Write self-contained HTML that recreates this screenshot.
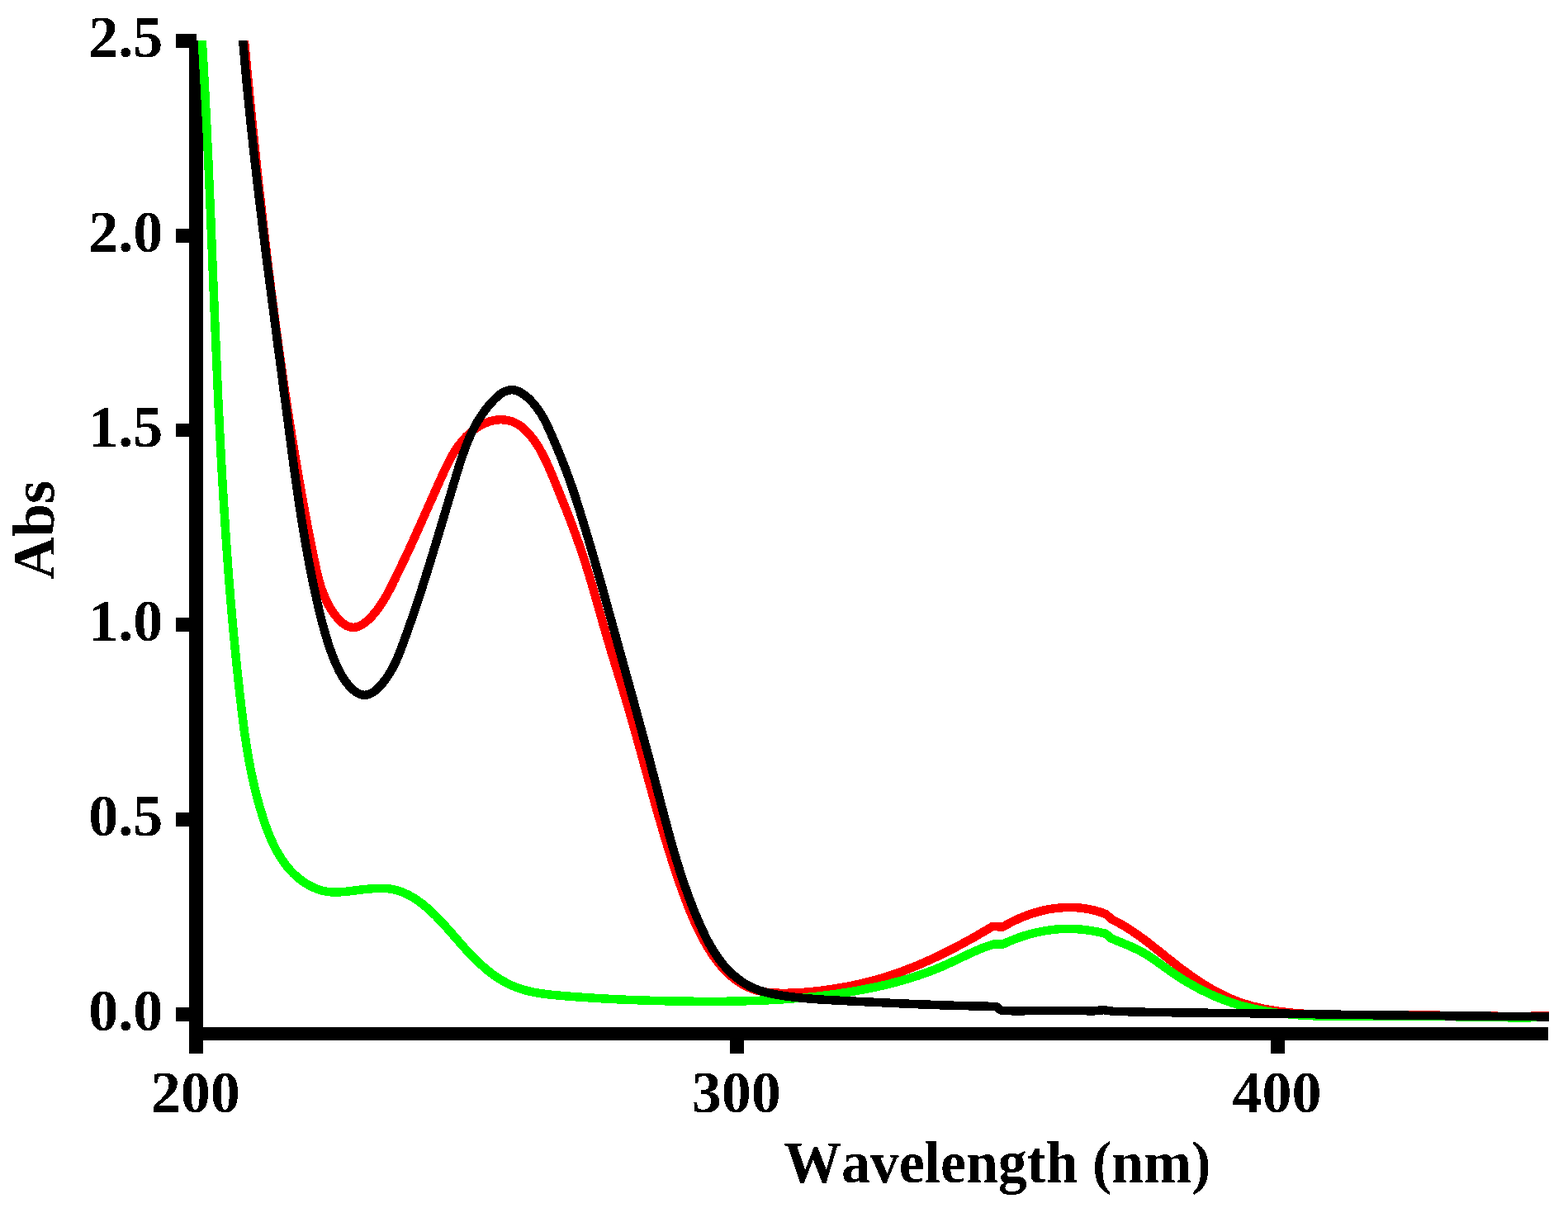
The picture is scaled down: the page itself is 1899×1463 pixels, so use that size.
<!DOCTYPE html>
<html lang="en">
<head>
<meta charset="utf-8">
<title>Absorbance vs Wavelength</title>
<style>
html,body{margin:0;padding:0;background:#ffffff;}
body{width:1899px;height:1463px;overflow:hidden;position:relative;}
svg{position:absolute;left:0;top:0;display:block;}
text{font-family:"Liberation Serif","DejaVu Serif",serif;font-weight:bold;fill:#000;font-kerning:none;}
.tick{font-size:72px;}
.lbl{font-size:72px;}
.curves path{fill:none;stroke-width:10.5;stroke-linejoin:bevel;stroke-linecap:butt;}
</style>
</head>
<body>
<svg width="1899" height="1463" viewBox="0 0 1899 1463">
<defs><filter id="crisp" x="-5%" y="-20%" width="110%" height="140%" color-interpolation-filters="sRGB"><feComponentTransfer><feFuncA type="discrete" tableValues="0 1"/></feComponentTransfer></filter><clipPath id="plot"><rect x="229" y="49" width="1647" height="1211"/></clipPath></defs>
<rect x="0" y="0" width="1899" height="1463" fill="#ffffff"/>
<g fill="#000" shape-rendering="crispEdges">
<rect x="229.25" y="49" width="16.5" height="1226.65"/>
<rect x="229.25" y="1243.75" width="1646" height="16"/>
<rect x="213" y="41.15" width="24.9" height="16.7"/>
<rect x="213" y="276.95" width="24.9" height="16.7"/>
<rect x="213" y="512.75" width="24.9" height="16.7"/>
<rect x="213" y="748.45" width="24.9" height="16.7"/>
<rect x="213" y="984.25" width="24.9" height="16.7"/>
<rect x="213" y="1220.05" width="24.9" height="16.7"/>
<rect x="884.15" y="1259" width="16.5" height="16.6"/>
<rect x="1539.05" y="1259" width="16.5" height="16.6"/>
</g>
<g class="curves" clip-path="url(#plot)" shape-rendering="crispEdges">
<path d="M293.2 20.0C293.6 24.6 294.0 29.3 294.4 33.9C294.9 38.6 295.3 43.2 295.7 47.9C296.2 52.5 296.6 57.2 297.1 61.8C297.5 66.5 297.9 71.1 298.4 75.8C298.8 80.4 299.3 85.0 299.7 89.7C300.2 94.3 300.6 99.0 301.1 103.6C301.5 108.2 302.0 112.9 302.4 117.5C302.9 122.2 303.3 126.8 303.8 131.4C304.3 136.1 304.7 140.7 305.2 145.3C305.7 150.0 306.1 154.6 306.6 159.2C307.1 163.9 307.6 168.5 308.0 173.1C308.5 177.7 309.0 182.4 309.5 187.0C310.0 191.6 310.5 196.3 310.9 200.9C311.4 205.5 311.9 210.1 312.4 214.8C312.9 219.4 313.4 224.0 313.9 228.6C314.4 233.3 314.9 237.9 315.5 242.5C316.0 247.1 316.5 251.8 317.0 256.4C317.5 261.0 318.1 265.6 318.6 270.2C319.1 274.9 319.7 279.5 320.2 284.1C320.7 288.7 321.3 293.4 321.8 298.0C322.4 302.6 322.9 307.2 323.5 311.8C324.0 316.4 324.6 321.1 325.1 325.7C325.7 330.3 326.3 334.9 326.9 339.5C327.4 344.2 328.0 348.8 328.6 353.4C329.2 358.0 329.8 362.6 330.4 367.2C331.0 371.9 331.6 376.5 332.2 381.1C332.8 385.7 333.4 390.3 334.0 394.9C334.6 399.6 335.2 404.2 335.9 408.8C336.5 413.4 337.1 418.0 337.8 422.6C338.4 427.3 339.0 431.9 339.7 436.5C340.3 441.1 341.0 445.7 341.7 450.3C342.3 455.0 343.0 459.6 343.7 464.2C344.3 468.8 345.0 473.4 345.7 478.0C346.4 482.7 347.1 487.3 347.8 491.9C348.5 496.5 349.2 501.1 349.9 505.7C350.6 510.4 351.4 515.0 352.1 519.6C352.8 524.2 353.5 528.8 354.3 533.4C355.0 538.1 355.8 542.7 356.5 547.3C357.3 551.9 358.1 556.5 358.8 561.1C359.6 565.7 360.4 570.3 361.2 574.9C362.0 579.5 362.8 584.1 363.6 588.7C364.4 593.3 365.2 597.9 366.0 602.5C366.9 607.1 367.7 611.6 368.5 616.2C369.4 620.8 370.2 625.4 371.1 629.9C372.0 634.5 372.8 639.0 373.7 643.6C374.6 648.1 375.5 652.7 376.4 657.2C377.3 661.7 378.2 666.3 379.1 670.8C380.1 675.3 381.0 679.8 382.0 684.3C382.9 688.8 383.9 693.3 385.0 697.8C386.1 702.3 387.4 706.7 388.8 711.2C390.3 715.6 391.9 720.0 393.9 724.4C395.8 728.8 398.0 733.2 400.6 737.5C403.3 741.8 406.3 746.0 409.7 749.6C413.1 753.3 416.8 756.5 420.7 758.3C424.6 760.1 428.7 760.4 432.8 759.1C436.9 757.9 440.9 755.2 444.7 751.9C448.5 748.6 452.1 744.6 455.3 740.6C458.5 736.6 461.2 732.6 463.7 728.6C466.2 724.7 468.4 720.7 470.6 716.6C472.7 712.6 474.7 708.5 476.7 704.4C478.8 700.3 480.8 696.1 482.9 691.9C484.9 687.7 486.9 683.5 488.9 679.3C490.9 675.1 492.9 670.9 494.9 666.6C496.8 662.4 498.8 658.2 500.7 653.9C502.6 649.7 504.5 645.4 506.4 641.2C508.4 636.9 510.2 632.7 512.1 628.4C514.0 624.2 515.9 619.9 517.8 615.6C519.7 611.4 521.6 607.1 523.5 602.9C525.4 598.6 527.3 594.4 529.2 590.1C531.1 585.9 533.0 581.6 534.9 577.4C536.9 573.1 538.8 568.9 540.8 564.7C542.9 560.5 545.0 556.4 547.2 552.4C549.5 548.3 552.0 544.4 554.7 540.6C557.4 536.9 560.3 533.2 563.6 529.8C566.8 526.4 570.4 523.2 574.3 520.3C578.1 517.4 582.3 514.9 586.5 512.9C590.8 511.0 595.2 509.5 599.8 508.8C604.3 508.0 608.9 508.0 613.5 508.8C618.1 509.5 622.5 511.1 626.6 513.4C630.6 515.6 634.2 518.7 637.5 522.1C640.8 525.4 643.8 529.1 646.6 532.8C649.3 536.6 651.8 540.5 654.1 544.6C656.4 548.6 658.5 552.7 660.5 556.9C662.5 561.2 664.4 565.4 666.3 569.7C668.1 574.1 669.9 578.4 671.7 582.7C673.4 587.0 675.2 591.4 677.0 595.7C678.7 600.0 680.5 604.3 682.2 608.7C684.0 613.0 685.7 617.3 687.4 621.6C689.1 626.0 690.7 630.3 692.4 634.7C694.0 639.0 695.6 643.4 697.2 647.7C698.8 652.1 700.4 656.5 701.9 660.8C703.4 665.2 704.9 669.6 706.4 674.0C707.8 678.5 709.3 682.9 710.6 687.3C712.0 691.8 713.4 696.2 714.7 700.7C716.1 705.2 717.4 709.6 718.7 714.1C720.0 718.6 721.2 723.1 722.5 727.6C723.8 732.1 725.1 736.6 726.3 741.0C727.6 745.5 728.9 750.0 730.1 754.5C731.4 759.0 732.7 763.5 734.0 768.0C735.3 772.4 736.6 776.9 738.0 781.4C739.3 785.8 740.6 790.3 742.0 794.8C743.3 799.2 744.7 803.7 746.1 808.1C747.4 812.6 748.8 817.0 750.2 821.5C751.5 825.9 752.9 830.4 754.2 834.8C755.6 839.3 756.9 843.7 758.3 848.2C759.6 852.7 760.9 857.1 762.2 861.6C763.5 866.1 764.8 870.5 766.1 875.0C767.3 879.5 768.6 884.0 769.9 888.4C771.1 892.9 772.4 897.4 773.6 901.9C774.9 906.4 776.1 910.9 777.3 915.4C778.6 919.9 779.8 924.3 781.0 928.8C782.3 933.3 783.5 937.8 784.7 942.3C786.0 946.8 787.2 951.3 788.5 955.8C789.7 960.3 790.9 964.8 792.2 969.2C793.5 973.7 794.7 978.2 796.0 982.7C797.3 987.2 798.6 991.7 799.9 996.1C801.2 1000.6 802.5 1005.1 803.8 1009.5C805.1 1014.0 806.5 1018.5 807.9 1022.9C809.2 1027.4 810.6 1031.8 812.0 1036.3C813.4 1040.7 814.8 1045.1 816.3 1049.6C817.8 1054.0 819.2 1058.4 820.7 1062.8C822.2 1067.3 823.8 1071.7 825.3 1076.1C826.9 1080.5 828.5 1084.8 830.1 1089.2C831.8 1093.6 833.4 1097.9 835.2 1102.2C837.0 1106.5 838.8 1110.8 840.7 1115.1C842.6 1119.3 844.5 1123.5 846.6 1127.7C848.6 1131.9 850.8 1136.0 853.1 1140.0C855.3 1144.1 857.7 1148.1 860.2 1152.0C862.6 1156.0 865.3 1159.8 868.1 1163.5C870.9 1167.2 873.9 1170.8 877.1 1174.2C880.3 1177.6 883.7 1180.9 887.3 1183.8C891.0 1186.8 894.8 1189.5 898.8 1191.9C902.8 1194.2 907.0 1196.3 911.4 1197.8C915.7 1199.4 920.2 1200.5 924.8 1201.2C929.4 1202.0 934.1 1202.4 938.8 1202.6C943.5 1202.8 948.2 1202.9 952.9 1202.8C957.5 1202.7 962.2 1202.5 966.8 1202.3C971.4 1202.0 976.0 1201.6 980.7 1201.2C985.3 1200.8 989.9 1200.3 994.5 1199.7C999.1 1199.1 1003.8 1198.5 1008.4 1197.8C1013.0 1197.1 1017.6 1196.3 1022.2 1195.5C1026.8 1194.7 1031.4 1193.8 1035.9 1192.8C1040.5 1191.8 1045.1 1190.8 1049.6 1189.6C1054.1 1188.5 1058.6 1187.3 1063.1 1186.0C1067.6 1184.8 1072.1 1183.4 1076.5 1182.0C1080.9 1180.5 1085.3 1179.0 1089.7 1177.5C1094.1 1175.9 1098.4 1174.2 1102.7 1172.5C1107.1 1170.8 1111.4 1169.1 1115.6 1167.2C1119.9 1165.4 1124.2 1163.5 1128.4 1161.5C1132.6 1159.6 1136.8 1157.6 1141.0 1155.6C1145.2 1153.5 1149.3 1151.4 1153.5 1149.3C1157.6 1147.1 1161.7 1145.0 1165.8 1142.7C1169.9 1140.5 1174.0 1138.3 1178.1 1136.0C1182.1 1133.7 1186.2 1131.4 1190.2 1129.0C1194.2 1126.7 1198.3 1124.3 1202.3 1121.9L1214.6 1122.6C1218.7 1120.2 1222.9 1117.8 1227.3 1115.7C1231.6 1113.5 1236.0 1111.6 1240.5 1109.8C1245.0 1108.0 1249.6 1106.5 1254.2 1105.1C1258.8 1103.7 1263.5 1102.6 1268.2 1101.6C1272.9 1100.7 1277.7 1100.0 1282.4 1099.6C1287.2 1099.1 1292.0 1098.9 1296.8 1099.0C1301.5 1099.0 1306.3 1099.3 1311.1 1099.9C1315.8 1100.5 1320.6 1101.4 1325.3 1102.6C1330.0 1103.8 1334.7 1105.2 1339.3 1107.0L1346.4 1113.4C1350.6 1115.4 1354.8 1117.6 1358.8 1119.9C1362.8 1122.3 1366.8 1124.7 1370.7 1127.3C1374.6 1129.9 1378.4 1132.6 1382.2 1135.3C1386.0 1138.1 1389.7 1140.9 1393.4 1143.8C1397.1 1146.7 1400.8 1149.6 1404.5 1152.6C1408.1 1155.5 1411.8 1158.5 1415.5 1161.4C1419.2 1164.3 1422.9 1167.3 1426.6 1170.2C1430.4 1173.0 1434.2 1175.9 1438.0 1178.6C1441.8 1181.4 1445.7 1184.1 1449.6 1186.7C1453.5 1189.3 1457.4 1191.9 1461.4 1194.3C1465.4 1196.7 1469.4 1199.0 1473.5 1201.2C1477.6 1203.4 1481.8 1205.5 1486.0 1207.4C1490.2 1209.4 1494.5 1211.1 1498.8 1212.8C1503.1 1214.4 1507.5 1215.8 1512.0 1217.1C1516.4 1218.5 1520.9 1219.6 1525.5 1220.6C1530.0 1221.7 1534.6 1222.6 1539.2 1223.3C1543.9 1224.1 1548.5 1224.8 1553.2 1225.4C1557.9 1226.0 1562.5 1226.4 1567.2 1226.9C1571.9 1227.3 1576.6 1227.6 1581.4 1227.9C1586.1 1228.2 1590.8 1228.4 1595.5 1228.6C1600.2 1228.8 1604.9 1228.9 1609.6 1229.0C1614.3 1229.1 1619.0 1229.2 1623.7 1229.2C1628.4 1229.3 1633.1 1229.3 1637.8 1229.3C1642.5 1229.3 1647.3 1229.3 1652.0 1229.3C1656.7 1229.2 1661.4 1229.2 1666.1 1229.2C1670.8 1229.2 1675.4 1229.1 1680.1 1229.1C1684.8 1229.1 1689.5 1229.2 1694.2 1229.2C1698.9 1229.2 1703.6 1229.2 1708.3 1229.3C1713.0 1229.3 1717.6 1229.4 1722.3 1229.4C1727.0 1229.5 1731.7 1229.6 1736.4 1229.6C1741.0 1229.7 1745.7 1229.8 1750.4 1229.9C1755.1 1229.9 1759.8 1230.0 1764.4 1230.1C1769.1 1230.2 1773.8 1230.3 1778.5 1230.3C1783.2 1230.4 1787.8 1230.5 1792.5 1230.5C1797.2 1230.6 1801.9 1230.7 1806.6 1230.7C1811.3 1230.7 1815.9 1230.8 1820.6 1230.8C1825.3 1230.8 1830.0 1230.8 1834.7 1230.8C1839.4 1230.8 1844.1 1230.8 1848.8 1230.8C1853.5 1230.8 1858.2 1230.7 1862.9 1230.6C1867.6 1230.6 1872.3 1230.5 1877.1 1230.4" stroke="#ff0000"/>
<path d="M242.9 20.1C243.2 24.7 243.5 29.4 243.8 34.0C244.1 38.7 244.4 43.4 244.7 48.0C245.0 52.7 245.2 57.3 245.5 62.0C245.8 66.6 246.1 71.3 246.3 76.0C246.6 80.6 246.9 85.3 247.1 89.9C247.4 94.6 247.6 99.3 247.9 103.9C248.1 108.6 248.4 113.3 248.6 117.9C248.9 122.6 249.1 127.3 249.3 131.9C249.6 136.6 249.8 141.3 250.0 145.9C250.2 150.6 250.5 155.3 250.7 159.9C250.9 164.6 251.1 169.3 251.3 173.9C251.6 178.6 251.8 183.3 252.0 187.9C252.2 192.6 252.4 197.3 252.6 202.0C252.8 206.6 253.0 211.3 253.2 216.0C253.4 220.6 253.6 225.3 253.8 230.0C254.0 234.7 254.2 239.3 254.4 244.0C254.6 248.7 254.8 253.4 255.0 258.0C255.2 262.7 255.4 267.4 255.6 272.1C255.7 276.7 255.9 281.4 256.1 286.1C256.3 290.8 256.5 295.4 256.7 300.1C256.9 304.8 257.1 309.5 257.2 314.1C257.4 318.8 257.6 323.5 257.8 328.2C258.0 332.8 258.2 337.5 258.3 342.2C258.5 346.9 258.7 351.5 258.9 356.2C259.1 360.9 259.3 365.6 259.5 370.3C259.7 374.9 259.8 379.6 260.0 384.3C260.2 389.0 260.4 393.6 260.6 398.3C260.8 403.0 261.0 407.7 261.2 412.3C261.4 417.0 261.6 421.7 261.8 426.4C262.0 431.1 262.2 435.7 262.4 440.4C262.6 445.1 262.8 449.8 263.0 454.4C263.2 459.1 263.4 463.8 263.6 468.5C263.8 473.1 264.0 477.8 264.2 482.5C264.4 487.2 264.7 491.8 264.9 496.5C265.1 501.2 265.3 505.9 265.6 510.5C265.8 515.2 266.0 519.9 266.2 524.5C266.5 529.2 266.7 533.9 267.0 538.6C267.2 543.2 267.4 547.9 267.7 552.6C267.9 557.2 268.2 561.9 268.5 566.6C268.7 571.3 269.0 575.9 269.2 580.6C269.5 585.3 269.8 589.9 270.1 594.6C270.3 599.3 270.6 603.9 270.9 608.6C271.2 613.3 271.5 617.9 271.8 622.6C272.1 627.3 272.4 631.9 272.7 636.6C273.0 641.3 273.3 645.9 273.6 650.6C273.9 655.3 274.2 659.9 274.6 664.6C274.9 669.2 275.2 673.9 275.6 678.6C275.9 683.2 276.3 687.9 276.6 692.5C277.0 697.2 277.3 701.9 277.7 706.5C278.1 711.2 278.5 715.8 278.8 720.5C279.2 725.1 279.6 729.8 280.0 734.4C280.4 739.1 280.8 743.7 281.2 748.4C281.6 753.1 282.0 757.7 282.5 762.3C282.9 767.0 283.3 771.6 283.8 776.3C284.2 780.9 284.7 785.6 285.1 790.2C285.6 794.9 286.1 799.5 286.5 804.2C287.0 808.8 287.5 813.5 288.0 818.1C288.5 822.7 289.0 827.4 289.5 832.0C290.0 836.6 290.5 841.3 291.1 845.9C291.6 850.6 292.1 855.2 292.7 859.8C293.2 864.5 293.8 869.1 294.4 873.7C295.0 878.3 295.6 883.0 296.2 887.6C296.9 892.2 297.6 896.8 298.3 901.4C299.0 906.1 299.7 910.7 300.5 915.3C301.3 919.9 302.2 924.5 303.1 929.1C303.9 933.7 304.9 938.2 305.9 942.8C306.9 947.4 307.9 952.0 309.0 956.5C310.1 961.1 311.3 965.7 312.6 970.2C313.8 974.8 315.1 979.3 316.5 983.8C317.9 988.4 319.4 992.9 320.9 997.4C322.5 1001.9 324.1 1006.4 325.9 1010.8C327.7 1015.2 329.6 1019.5 331.7 1023.7C333.7 1027.9 335.9 1032.1 338.3 1036.0C340.7 1040.0 343.3 1043.8 346.1 1047.4C348.8 1051.1 351.8 1054.5 355.1 1057.7C358.3 1060.9 361.8 1063.9 365.5 1066.6C369.3 1069.3 373.3 1071.8 377.5 1073.8C381.8 1075.9 386.2 1077.6 390.8 1078.8C395.3 1079.9 400.0 1080.5 404.7 1080.6C409.3 1080.6 414.0 1080.2 418.7 1079.8C423.3 1079.3 428.0 1078.7 432.6 1078.1C437.2 1077.6 441.9 1077.0 446.5 1076.6C451.2 1076.1 455.8 1075.8 460.5 1075.8C465.2 1075.7 469.9 1076.0 474.5 1076.8C479.1 1077.6 483.6 1078.9 487.9 1080.7C492.2 1082.5 496.4 1084.6 500.4 1087.1C504.4 1089.5 508.2 1092.2 511.9 1095.1C515.6 1098.0 519.2 1101.1 522.6 1104.3C526.0 1107.5 529.3 1110.8 532.5 1114.2C535.7 1117.5 538.9 1121.0 541.9 1124.5C545.0 1128.0 548.1 1131.5 551.1 1135.0C554.2 1138.5 557.3 1142.1 560.4 1145.6C563.5 1149.1 566.6 1152.5 569.9 1155.9C573.1 1159.3 576.5 1162.7 579.9 1165.9C583.4 1169.1 586.9 1172.2 590.5 1175.2C594.2 1178.2 597.9 1181.0 601.8 1183.5C605.7 1186.1 609.6 1188.5 613.7 1190.6C617.8 1192.7 622.0 1194.6 626.3 1196.2C630.6 1197.8 635.0 1199.1 639.5 1200.2C644.0 1201.3 648.6 1202.2 653.2 1202.9C657.9 1203.6 662.5 1204.2 667.3 1204.7C672.0 1205.2 676.7 1205.7 681.4 1206.0C686.1 1206.4 690.9 1206.8 695.6 1207.1C700.3 1207.5 705.0 1207.8 709.7 1208.1C714.4 1208.4 719.1 1208.7 723.7 1209.0C728.4 1209.3 733.1 1209.5 737.8 1209.8C742.4 1210.0 747.1 1210.2 751.7 1210.5C756.4 1210.7 761.1 1210.9 765.7 1211.0C770.4 1211.2 775.0 1211.4 779.7 1211.6C784.3 1211.7 789.0 1211.8 793.6 1212.0C798.3 1212.1 802.9 1212.2 807.6 1212.3C812.2 1212.4 816.9 1212.5 821.5 1212.6C826.2 1212.6 830.8 1212.7 835.5 1212.7C840.1 1212.8 844.8 1212.8 849.5 1212.8C854.1 1212.9 858.8 1212.9 863.5 1212.9C868.2 1212.8 872.9 1212.8 877.5 1212.8C882.2 1212.7 886.9 1212.6 891.6 1212.6C896.3 1212.5 901.0 1212.4 905.6 1212.2C910.3 1212.1 915.0 1211.9 919.7 1211.8C924.4 1211.6 929.1 1211.4 933.7 1211.1C938.4 1210.9 943.1 1210.6 947.8 1210.3C952.5 1210.0 957.1 1209.7 961.8 1209.3C966.5 1208.9 971.1 1208.5 975.8 1208.1C980.4 1207.7 985.1 1207.2 989.8 1206.7C994.4 1206.2 999.0 1205.6 1003.7 1205.0C1008.3 1204.4 1012.9 1203.8 1017.6 1203.1C1022.2 1202.4 1026.8 1201.7 1031.4 1200.9C1036.0 1200.2 1040.6 1199.3 1045.2 1198.5C1049.8 1197.6 1054.3 1196.7 1058.9 1195.7C1063.5 1194.8 1068.0 1193.7 1072.5 1192.7C1077.1 1191.6 1081.6 1190.4 1086.1 1189.2C1090.6 1188.0 1095.1 1186.8 1099.5 1185.4C1104.0 1184.1 1108.5 1182.7 1112.9 1181.2C1117.3 1179.7 1121.7 1178.1 1126.1 1176.5C1130.4 1174.8 1134.8 1173.1 1139.1 1171.3C1143.4 1169.4 1147.7 1167.5 1152.0 1165.5C1156.2 1163.5 1160.5 1161.5 1164.7 1159.5C1169.0 1157.4 1173.2 1155.4 1177.5 1153.5C1181.8 1151.5 1186.0 1149.7 1190.4 1148.0C1194.7 1146.3 1199.1 1144.8 1203.5 1143.5L1214.5 1143.6C1218.8 1141.6 1223.1 1139.7 1227.5 1138.0C1232.0 1136.2 1236.4 1134.6 1241.0 1133.2C1245.5 1131.8 1250.1 1130.6 1254.7 1129.5C1259.4 1128.4 1264.0 1127.5 1268.7 1126.8C1273.4 1126.1 1278.1 1125.6 1282.8 1125.2C1287.6 1124.9 1292.3 1124.8 1297.0 1124.9C1301.7 1125.0 1306.5 1125.3 1311.2 1125.8C1315.9 1126.3 1320.6 1126.9 1325.3 1127.8C1329.9 1128.6 1334.6 1129.6 1339.2 1130.8L1345.4 1136.2C1349.6 1138.1 1353.8 1139.8 1358.1 1141.6C1362.4 1143.3 1366.8 1145.1 1371.0 1147.0C1375.2 1148.9 1379.4 1150.9 1383.4 1153.1C1387.4 1155.4 1391.3 1157.8 1395.1 1160.4C1398.9 1162.9 1402.6 1165.6 1406.3 1168.3C1410.1 1171.0 1413.8 1173.7 1417.6 1176.4C1421.3 1179.0 1425.2 1181.6 1429.1 1184.1C1433.0 1186.6 1436.9 1189.0 1441.0 1191.3C1445.0 1193.6 1449.1 1195.9 1453.2 1198.0C1457.3 1200.1 1461.5 1202.1 1465.7 1204.1C1469.9 1206.0 1474.1 1207.8 1478.4 1209.5C1482.7 1211.2 1487.0 1212.8 1491.4 1214.3C1495.7 1215.7 1500.1 1217.1 1504.5 1218.3C1508.9 1219.5 1513.4 1220.6 1517.8 1221.6C1522.3 1222.6 1526.7 1223.5 1531.2 1224.3C1535.7 1225.1 1540.3 1225.8 1544.8 1226.5C1549.3 1227.1 1553.9 1227.6 1558.5 1228.1C1563.0 1228.6 1567.6 1228.9 1572.2 1229.3C1576.8 1229.6 1581.4 1229.9 1586.0 1230.1C1590.6 1230.3 1595.3 1230.4 1599.9 1230.6C1604.5 1230.7 1609.2 1230.8 1613.8 1230.8C1618.5 1230.8 1623.1 1230.8 1627.8 1230.8C1632.4 1230.8 1637.1 1230.8 1641.7 1230.7C1646.4 1230.7 1651.1 1230.6 1655.7 1230.6C1660.4 1230.5 1665.0 1230.5 1669.6 1230.4C1674.3 1230.4 1678.9 1230.4 1683.5 1230.3C1688.2 1230.3 1692.8 1230.3 1697.4 1230.3C1702.0 1230.4 1706.6 1230.4 1711.2 1230.4C1715.8 1230.5 1720.4 1230.5 1725.0 1230.6C1729.6 1230.7 1734.2 1230.7 1738.8 1230.8C1743.4 1230.9 1748.0 1231.0 1752.6 1231.1C1757.1 1231.2 1761.7 1231.2 1766.3 1231.3C1770.9 1231.4 1775.5 1231.5 1780.1 1231.6C1784.6 1231.7 1789.2 1231.8 1793.8 1231.8C1798.4 1231.9 1803.0 1232.0 1807.6 1232.1C1812.2 1232.1 1816.8 1232.2 1821.4 1232.2C1826.0 1232.3 1830.7 1232.3 1835.3 1232.3C1839.9 1232.3 1844.5 1232.3 1849.2 1232.3C1853.8 1232.3 1858.5 1232.2 1863.1 1232.2C1867.8 1232.1 1872.5 1232.0 1877.1 1231.9" stroke="#00ff00"/>
<path d="M292.0 20.0C292.3 24.6 292.7 29.3 293.0 33.9C293.4 38.6 293.8 43.2 294.1 47.9C294.5 52.5 294.9 57.2 295.3 61.8C295.7 66.5 296.1 71.1 296.5 75.7C296.9 80.4 297.4 85.0 297.8 89.7C298.2 94.3 298.6 98.9 299.1 103.6C299.5 108.2 300.0 112.8 300.4 117.5C300.9 122.1 301.3 126.8 301.8 131.4C302.3 136.0 302.8 140.7 303.2 145.3C303.7 149.9 304.2 154.6 304.7 159.2C305.2 163.8 305.7 168.5 306.2 173.1C306.7 177.7 307.2 182.4 307.7 187.0C308.2 191.6 308.8 196.3 309.3 200.9C309.8 205.5 310.3 210.1 310.9 214.8C311.4 219.4 312.0 224.0 312.5 228.7C313.0 233.3 313.6 237.9 314.1 242.5C314.7 247.2 315.3 251.8 315.8 256.4C316.4 261.0 316.9 265.7 317.5 270.3C318.1 274.9 318.7 279.5 319.2 284.2C319.8 288.8 320.4 293.4 321.0 298.0C321.5 302.7 322.1 307.3 322.7 311.9C323.3 316.5 323.9 321.1 324.5 325.8C325.1 330.4 325.7 335.0 326.3 339.6C326.9 344.3 327.5 348.9 328.1 353.5C328.7 358.1 329.3 362.7 329.9 367.4C330.5 372.0 331.1 376.6 331.7 381.2C332.3 385.8 332.9 390.5 333.5 395.1C334.1 399.7 334.7 404.3 335.3 408.9C335.9 413.6 336.5 418.2 337.1 422.8C337.8 427.4 338.4 432.0 339.0 436.7C339.6 441.3 340.2 445.9 340.8 450.5C341.4 455.1 342.0 459.8 342.6 464.4C343.2 469.0 343.8 473.6 344.4 478.2C345.1 482.9 345.7 487.5 346.3 492.1C346.9 496.7 347.5 501.3 348.1 506.0C348.7 510.6 349.3 515.2 349.9 519.8C350.5 524.4 351.1 529.1 351.7 533.7C352.3 538.3 352.9 542.9 353.5 547.5C354.1 552.1 354.7 556.8 355.4 561.4C356.0 566.0 356.6 570.6 357.3 575.2C357.9 579.8 358.6 584.4 359.2 589.1C359.9 593.7 360.5 598.3 361.2 602.9C361.9 607.5 362.6 612.1 363.3 616.7C364.0 621.3 364.7 625.9 365.4 630.5C366.2 635.1 366.9 639.7 367.7 644.3C368.4 648.9 369.2 653.5 370.0 658.1C370.8 662.7 371.6 667.3 372.5 671.8C373.3 676.4 374.2 681.0 375.0 685.6C375.9 690.2 376.8 694.7 377.8 699.3C378.7 703.9 379.6 708.5 380.6 713.0C381.6 717.6 382.6 722.2 383.6 726.7C384.6 731.3 385.7 735.8 386.8 740.4C387.9 744.9 389.0 749.4 390.2 754.0C391.4 758.5 392.6 762.9 393.9 767.4C395.2 771.8 396.5 776.2 398.0 780.6C399.4 784.9 400.9 789.2 402.5 793.5C404.2 797.8 405.9 802.1 407.9 806.4C409.9 810.8 412.0 815.1 414.6 819.4C417.1 823.6 420.1 827.8 423.6 831.6C427.1 835.3 430.9 838.5 434.9 840.3C438.9 842.1 443.0 842.3 446.9 840.8C450.9 839.4 454.8 836.5 458.3 832.9C461.9 829.4 465.2 825.3 468.0 821.3C470.9 817.2 473.4 813.1 475.6 808.9C477.8 804.7 479.8 800.5 481.6 796.2C483.4 791.9 485.1 787.5 486.7 783.2C488.3 778.8 489.9 774.5 491.5 770.1C493.0 765.7 494.6 761.4 496.1 757.0C497.7 752.6 499.2 748.2 500.7 743.8C502.2 739.4 503.7 735.0 505.1 730.6C506.6 726.2 508.0 721.7 509.5 717.3C510.9 712.9 512.3 708.4 513.7 704.0C515.1 699.6 516.5 695.1 517.9 690.7C519.3 686.2 520.7 681.8 522.0 677.3C523.4 672.8 524.8 668.4 526.1 663.9C527.5 659.5 528.8 655.0 530.2 650.5C531.5 646.1 532.8 641.6 534.2 637.1C535.5 632.7 536.8 628.2 538.2 623.7C539.5 619.3 540.8 614.8 542.2 610.3C543.5 605.9 544.8 601.4 546.2 596.9C547.5 592.5 548.8 588.0 550.2 583.5C551.5 579.1 552.9 574.6 554.2 570.2C555.6 565.7 557.0 561.3 558.4 556.9C559.9 552.5 561.4 548.1 563.0 543.8C564.6 539.4 566.3 535.1 568.1 530.9C570.0 526.6 571.9 522.4 574.1 518.3C576.2 514.2 578.5 510.1 581.1 506.1C583.6 502.1 586.4 498.2 589.4 494.4C592.4 490.6 595.7 486.8 599.3 483.2C602.9 479.7 606.7 476.5 610.7 474.5C614.7 472.5 618.9 471.7 623.1 472.5C627.2 473.3 631.4 475.5 635.4 478.5C639.3 481.4 643.1 485.2 646.3 488.9C649.5 492.7 652.3 496.6 654.9 500.6C657.4 504.6 659.6 508.7 661.6 512.9C663.7 517.0 665.5 521.3 667.4 525.5C669.3 529.7 671.1 534.0 672.9 538.3C674.7 542.6 676.5 546.9 678.3 551.2C680.0 555.5 681.7 559.8 683.4 564.2C685.1 568.5 686.7 572.9 688.3 577.3C689.9 581.6 691.5 586.0 693.0 590.4C694.5 594.9 696.0 599.3 697.4 603.7C698.8 608.1 700.2 612.6 701.6 617.0C703.0 621.5 704.4 625.9 705.7 630.4C707.1 634.8 708.5 639.3 709.8 643.8C711.1 648.2 712.5 652.7 713.8 657.2C715.1 661.6 716.4 666.1 717.7 670.6C719.0 675.1 720.3 679.5 721.5 684.0C722.8 688.5 724.1 693.0 725.4 697.5C726.6 702.0 727.9 706.4 729.2 710.9C730.4 715.4 731.7 719.9 732.9 724.4C734.2 728.9 735.4 733.4 736.6 737.9C737.9 742.4 739.1 746.8 740.4 751.3C741.6 755.8 742.8 760.3 744.1 764.8C745.3 769.3 746.6 773.8 747.8 778.3C749.0 782.8 750.3 787.3 751.5 791.8C752.8 796.2 754.0 800.7 755.2 805.2C756.5 809.7 757.7 814.2 758.9 818.7C760.2 823.2 761.4 827.7 762.7 832.2C763.9 836.7 765.1 841.1 766.4 845.6C767.6 850.1 768.8 854.6 770.0 859.1C771.3 863.6 772.5 868.1 773.7 872.6C774.9 877.1 776.2 881.6 777.4 886.1C778.6 890.6 779.8 895.1 781.0 899.6C782.2 904.1 783.5 908.6 784.7 913.1C785.9 917.6 787.1 922.1 788.3 926.6C789.5 931.1 790.6 935.6 791.8 940.1C793.0 944.6 794.2 949.1 795.4 953.6C796.5 958.1 797.7 962.6 798.9 967.2C800.1 971.7 801.2 976.2 802.4 980.7C803.6 985.2 804.8 989.7 806.0 994.2C807.2 998.7 808.4 1003.2 809.6 1007.7C810.8 1012.2 812.1 1016.7 813.4 1021.2C814.6 1025.7 815.9 1030.2 817.2 1034.6C818.5 1039.1 819.9 1043.5 821.3 1048.0C822.6 1052.4 824.0 1056.9 825.5 1061.3C826.9 1065.7 828.4 1070.1 830.0 1074.5C831.5 1078.9 833.1 1083.3 834.7 1087.7C836.3 1092.0 838.0 1096.4 839.7 1100.7C841.4 1105.0 843.2 1109.3 845.0 1113.6C846.9 1117.9 848.8 1122.2 850.7 1126.4C852.7 1130.7 854.7 1134.9 856.9 1139.0C859.1 1143.1 861.4 1147.2 863.8 1151.2C866.2 1155.1 868.8 1159.0 871.6 1162.7C874.3 1166.4 877.3 1170.0 880.5 1173.4C883.6 1176.7 887.1 1180.0 890.7 1183.0C894.3 1186.0 898.1 1188.7 902.0 1191.2C906.0 1193.6 910.2 1195.8 914.5 1197.5C918.8 1199.3 923.2 1200.7 927.7 1201.9C932.2 1203.0 936.8 1203.9 941.4 1204.8C946.0 1205.6 950.7 1206.3 955.3 1206.9C959.9 1207.5 964.5 1208.0 969.2 1208.5C973.8 1209.0 978.4 1209.4 983.1 1209.7C987.7 1210.1 992.4 1210.4 997.0 1210.7C1001.7 1211.0 1006.3 1211.2 1011.0 1211.5C1015.6 1211.7 1020.3 1211.9 1024.9 1212.2C1029.6 1212.4 1034.2 1212.6 1038.9 1212.9C1043.5 1213.1 1048.2 1213.3 1052.8 1213.5C1057.5 1213.8 1062.1 1214.0 1066.8 1214.2C1071.4 1214.4 1076.1 1214.7 1080.8 1214.9C1085.4 1215.1 1090.1 1215.3 1094.7 1215.5C1099.4 1215.7 1104.0 1215.9 1108.7 1216.1C1113.4 1216.3 1118.0 1216.5 1122.7 1216.6C1127.3 1216.8 1132.0 1217.0 1136.6 1217.2C1141.3 1217.3 1146.0 1217.5 1150.6 1217.6C1155.3 1217.8 1159.9 1217.9 1164.6 1218.0C1169.2 1218.2 1173.9 1218.3 1178.6 1218.4C1183.2 1218.5 1187.9 1218.6 1192.5 1218.7C1197.2 1218.8 1201.8 1218.8 1206.5 1218.9L1212.5 1223.8L1235.0 1224.6L1247.0 1223.9L1310.0 1223.9L1322.8 1224.6L1336.7 1223.1L1348.0 1224.8L1392.3 1225.9L1430.0 1226.4L1476.0 1226.9L1552.0 1227.6L1640.0 1229.0L1754.0 1230.3L1877.0 1231.4" stroke="#000000"/>
</g>
<g filter="url(#crisp)">
<g class="tick" text-anchor="end">
<text x="197.2" y="68.9">2.5</text>
<text x="197.2" y="304.7">2.0</text>
<text x="197.2" y="540.5">1.5</text>
<text x="197.2" y="776.2">1.0</text>
<text x="197.2" y="1012.0">0.5</text>
<text x="197.2" y="1247.8">0.0</text>
</g>
<g class="tick" text-anchor="middle">
<text x="236.8" y="1346.8">200</text>
<text x="891.7" y="1346.8">300</text>
<text x="1546.6" y="1346.8">400</text>
</g>
<text class="lbl" text-anchor="middle" transform="translate(1207.8 1431.7) scale(0.969 1)">Wavelength (nm)</text>
<text class="lbl" text-anchor="middle" transform="translate(65.2 642) rotate(-90)">Abs</text>
</g>
</svg>
</body>
</html>
